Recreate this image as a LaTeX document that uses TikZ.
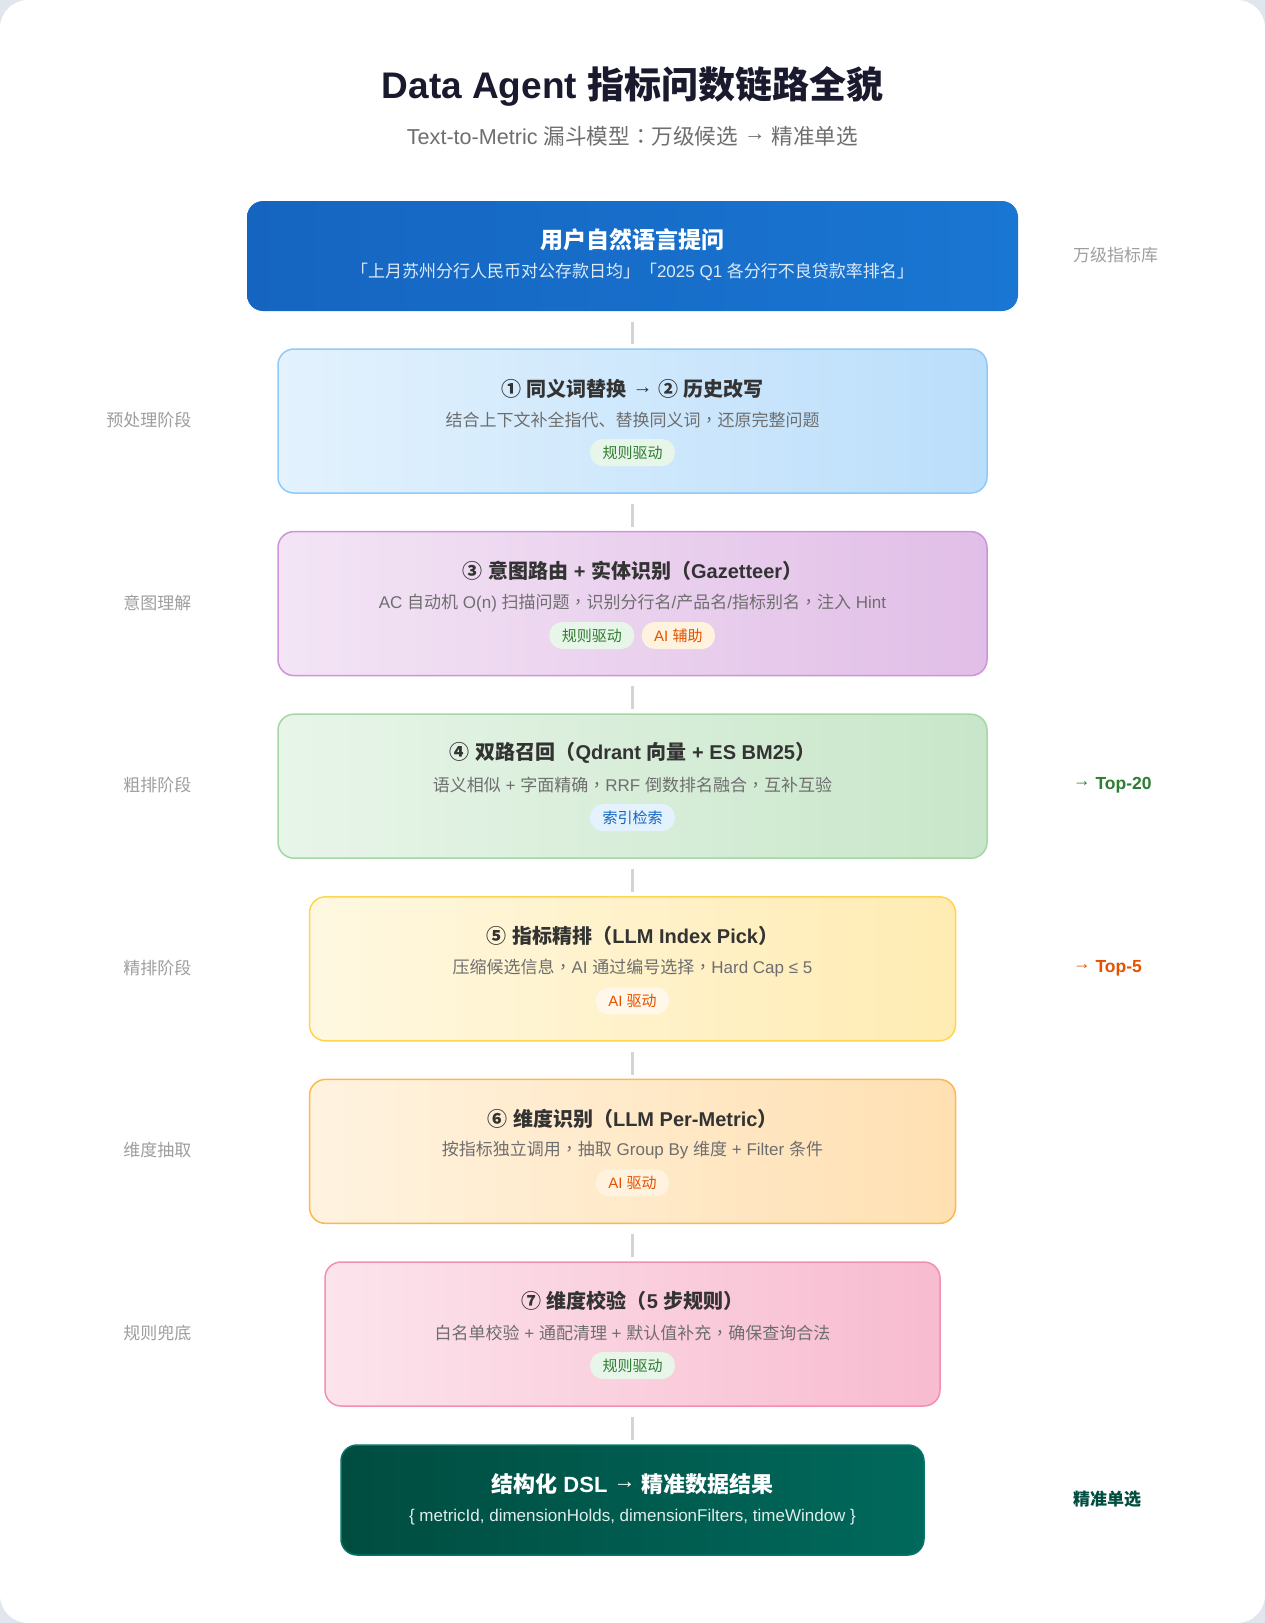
\documentclass[tikz,border=0pt]{standalone}
\usepackage{fontspec}
\setmainfont{Liberation Sans}
\newfontfamily\cjkfam{Noto Sans CJK SC}
\newfontfamily\cjktcfam{Noto Sans CJK TC}
\XeTeXinterchartokenstate=1
\chardef\cjkcls=7
\chardef\punccls=8
\newcount\cjkcnt
\def\setcjkrange#1#2{\cjkcnt=#1 \loop\XeTeXcharclass\cjkcnt=\cjkcls \advance\cjkcnt by 1 \ifnum\cjkcnt<#2 \repeat}
\setcjkrange{"4E00}{"A000}
\setcjkrange{"3000}{"3040}
\setcjkrange{"FF00}{"FFF0}
\setcjkrange{"2460}{"2500}
\XeTeXcharclass"FF0C=\punccls
\XeTeXcharclass"FF1A=\punccls
\XeTeXinterchartoks 0 \cjkcls = {\cjkfam}
\XeTeXinterchartoks 4095 \cjkcls = {\cjkfam}
\XeTeXinterchartoks \cjkcls 0 = {\rmfamily}
\XeTeXinterchartoks \cjkcls 4095 = {\rmfamily}
\XeTeXinterchartoks 0 \punccls = {\cjktcfam}
\XeTeXinterchartoks 4095 \punccls = {\cjktcfam}
\XeTeXinterchartoks \cjkcls \punccls = {\cjktcfam}
\XeTeXinterchartoks \punccls \cjkcls = {\cjkfam}
\XeTeXinterchartoks \punccls 0 = {\rmfamily}
\XeTeXinterchartoks \punccls 4095 = {\rmfamily}
\newcommand\rarr{\raisebox{0.17em}{→}}

\definecolor{bgouter}{HTML}{E0E5EE}
\definecolor{titlecol}{HTML}{1A1A2E}
\definecolor{c333}{HTML}{333333}
\definecolor{c666}{HTML}{6E6E6E}
\definecolor{c999}{HTML}{9E9E9E}
\definecolor{connc}{HTML}{D4D4D4}
\definecolor{blueA}{HTML}{1565C0}\definecolor{blueB}{HTML}{1976D2}
\definecolor{s2a}{HTML}{E3F2FD}\definecolor{s2b}{HTML}{BBDEFB}\definecolor{s2d}{HTML}{90CAF9}
\definecolor{s3a}{HTML}{F3E5F5}\definecolor{s3b}{HTML}{E1BEE7}\definecolor{s3d}{HTML}{CE93D8}
\definecolor{s4a}{HTML}{E8F5E9}\definecolor{s4b}{HTML}{C8E6C9}\definecolor{s4d}{HTML}{A5D6A7}
\definecolor{s5a}{HTML}{FFF8E1}\definecolor{s5b}{HTML}{FFECB3}\definecolor{s5d}{HTML}{FFD54F}
\definecolor{s6a}{HTML}{FFF3E0}\definecolor{s6b}{HTML}{FFE0B2}\definecolor{s6d}{HTML}{FFB74D}
\definecolor{s7a}{HTML}{FCE4EC}\definecolor{s7b}{HTML}{F8BBD0}\definecolor{s7d}{HTML}{F48FB1}
\definecolor{tealA}{HTML}{004D40}\definecolor{tealB}{HTML}{00695C}\definecolor{tealD}{HTML}{00796B}
\definecolor{tgreen}{HTML}{2E7D32}\definecolor{tgreenbg}{HTML}{E8F5E9}
\definecolor{torange}{HTML}{E65100}\definecolor{torangebg}{HTML}{FFF3E0}
\definecolor{tblue}{HTML}{1565C0}\definecolor{tbluebg}{HTML}{E3F2FD}

\tikzset{
  stagebox/.style={rounded corners=16pt, line width=1.5pt, minimum height=144pt, inner sep=0pt},
  endbox/.style={rounded corners=16pt, line width=1.5pt, minimum height=110pt, inner sep=0pt},
  ttl/.style={font=\fontsize{20}{24}\selectfont\bfseries, text=c333},
  dsc/.style={font=\fontsize{17}{20}\selectfont, text=c666},
  tagpill/.style={rounded corners=13pt, minimum height=27pt, inner xsep=12.5pt, inner ysep=0pt, font=\fontsize{15}{18}\selectfont},
  tagrule/.style={tagpill, fill=tgreenbg, text=tgreen},
  tagai/.style={tagpill, fill=torangebg, text=torange},
  tagidx/.style={tagpill, fill=tbluebg, text=tblue},
  leftlbl/.style={anchor=east, inner sep=0pt, font=\fontsize{17}{20}\selectfont, text=c999},
  rightlbl/.style={anchor=west, inner sep=0pt, font=\fontsize{17}{20}\selectfont},
  conn/.style={draw=connc, line width=2.6pt},
}

\begin{document}
\begin{tikzpicture}[x=1pt,y=-1pt]
\useasboundingbox (0,0) rectangle (1265,1623);
\fill[bgouter] (0,0) rectangle (1265,1623);
\fill[white, rounded corners=28pt] (0,0) rectangle (1265,1623);

% titles
\node[font=\fontsize{37}{44}\selectfont\bfseries, text=titlecol] (title) at (632.5,86) {Data Agent 指标问数链路全貌};
\node[font=\fontsize{21.6}{25}\selectfont, text=c666] (subtitle) at (632.5,136) {Text-to-Metric 漏斗模型：万级候选 \rarr{} 精准单选};

% box 1
\node[endbox, minimum width=771pt, left color=blueA, right color=blueB] (b1) at (632.5,256) {};
\node[font=\fontsize{23}{27}\selectfont\bfseries, text=white] (b1t) at (632.5,240) {用户自然语言提问};
\node[font=\fontsize{17}{20}\selectfont, text=white!85!blueB] (b1d) at (632.5,272) {「上月苏州分行人民币对公存款日均」「2025 Q1 各分行不良贷款率排名」};

% box 2
\node[stagebox, minimum width=709pt, left color=s2a, right color=s2b, draw=s2d] (b2) at (632.5,421) {};
\node[ttl] (b2t) at (632.5,389) {① 同义词替换 \rarr{} ② 历史改写};
\node[dsc] (b2d) at (632.5,420) {结合上下文补全指代、替换同义词，还原完整问题};
\node[tagrule] (b2g) at (632.5,452.5) {规则驱动};

% box 3
\node[stagebox, minimum width=709pt, left color=s3a, right color=s3b, draw=s3d] (b3) at (632.5,603.6) {};
\node[ttl] (b3t) at (632.5,570.6) {③ 意图路由 + 实体识别（Gazetteer）};
\node[dsc] (b3d) at (632.5,602.6) {AC 自动机 O(n) 扫描问题，识别分行名/产品名/指标别名，注入 Hint};
\node[tagrule, anchor=east] (b3g1) at (634.5,635.5) {规则驱动};
\node[tagai, anchor=west] (b3g2) at (641.5,635.5) {AI 辅助};

% box 4
\node[stagebox, minimum width=709pt, left color=s4a, right color=s4b, draw=s4d] (b4) at (632.5,786.2) {};
\node[ttl] (b4t) at (632.5,753.2) {④ 双路召回（Qdrant 向量 + ES BM25）};
\node[dsc] (b4d) at (632.5,785.2) {语义相似 + 字面精确，RRF 倒数排名融合，互补互验};
\node[tagidx] (b4g) at (632.5,817.7) {索引检索};

% box 5
\node[stagebox, minimum width=646pt, left color=s5a, right color=s5b, draw=s5d] (b5) at (632.5,968.8) {};
\node[ttl] (b5t) at (632.5,935.8) {⑤ 指标精排（LLM Index Pick）};
\node[dsc] (b5d) at (632.5,967.8) {压缩候选信息，AI 通过编号选择，Hard Cap ≤ 5};
\node[tagai, fill=torangebg!70!white] (b5g) at (632.5,1000.8) {AI 驱动};

% box 6
\node[stagebox, minimum width=646pt, left color=s6a, right color=s6b, draw=s6d] (b6) at (632.5,1151.4) {};
\node[ttl] (b6t) at (632.5,1118.4) {⑥ 维度识别（LLM Per-Metric）};
\node[dsc] (b6d) at (632.5,1150.4) {按指标独立调用，抽取 Group By 维度 + Filter 条件};
\node[tagai] (b6g) at (632.5,1182.9) {AI 驱动};

% box 7
\node[stagebox, minimum width=615pt, left color=s7a, right color=s7b, draw=s7d] (b7) at (632.5,1334) {};
\node[ttl] (b7t) at (632.5,1301) {⑦ 维度校验（5 步规则）};
\node[dsc] (b7d) at (632.5,1333) {白名单校验 + 通配清理 + 默认值补充，确保查询合法};
\node[tagrule] (b7g) at (632.5,1365.5) {规则驱动};

% box 8
\node[endbox, minimum width=583pt, left color=tealA, right color=tealB, draw=tealD] (b8) at (632.5,1500) {};
\node[font=\fontsize{22}{26}\selectfont\bfseries, text=white] (b8t) at (632.5,1484) {结构化 DSL \rarr{} 精准数据结果};
\node[font=\fontsize{17}{20}\selectfont, text=white!88!tealB] (b8d) at (632.5,1517) {\{ metricId, dimensionHolds, dimensionFilters, timeWindow \}};

% connectors
\draw[conn] ([yshift=-10pt]b1.south) -- ([yshift=4pt]b2.north);
\draw[conn] ([yshift=-10pt]b2.south) -- ([yshift=4pt]b3.north);
\draw[conn] ([yshift=-10pt]b3.south) -- ([yshift=4pt]b4.north);
\draw[conn] ([yshift=-10pt]b4.south) -- ([yshift=4pt]b5.north);
\draw[conn] ([yshift=-10pt]b5.south) -- ([yshift=4pt]b6.north);
\draw[conn] ([yshift=-10pt]b6.south) -- ([yshift=4pt]b7.north);
\draw[conn] ([yshift=-10pt]b7.south) -- ([yshift=4pt]b8.north);

% left labels
\node[leftlbl] (l2) at (191.5,420) {预处理阶段};
\node[leftlbl] (l3) at (191.5,602.6) {意图理解};
\node[leftlbl] (l4) at (191.5,785.2) {粗排阶段};
\node[leftlbl] (l5) at (191.5,967.8) {精排阶段};
\node[leftlbl] (l6) at (191.5,1150.4) {维度抽取};
\node[leftlbl] (l7) at (191.5,1333) {规则兜底};

% right labels
\node[rightlbl, text=c999] (r1) at (1073,255) {万级指标库};
\node[rightlbl, text=tgreen, font=\fontsize{17.5}{20}\selectfont\bfseries] (r4) at (1073,785.2) {\rarr{} Top-20};
\node[rightlbl, text=torange, font=\fontsize{17.5}{20}\selectfont\bfseries] (r5) at (1073,967.8) {\rarr{} Top-5};
\node[rightlbl, text=tealA, font=\fontsize{17}{20}\selectfont\bfseries] (r8) at (1073,1499) {精准单选};
\end{tikzpicture}
\end{document}
